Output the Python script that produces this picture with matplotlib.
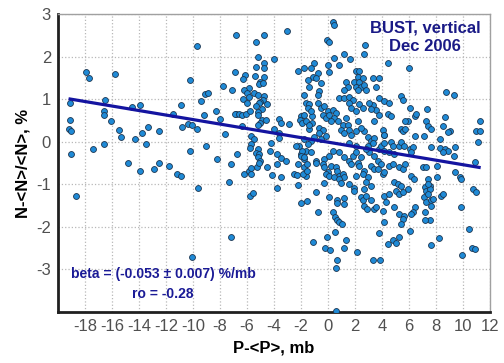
import matplotlib
matplotlib.use("Agg")
import matplotlib.pyplot as plt
import numpy as np

# pressure deviation P-<P> (mb) and count deviation N-<N>/<N> (%)
# left wing, x < -6.5
p_left = [-19.1, -19.1, -19.2, -19.0, -19.0, -17.9, -17.7, -17.4, -16.5, -16.6, -16.6, -16.1,
          -16.6, -15.8, -15.5, -15.3, -14.8, -14.5, -14.3, -13.9, -13.8, -13.5, -13.3, -13.9,
          -12.9, -12.5, -12.5, -11.8, -11.2, -10.9, -10.9, -11.5, -10.2, -9.7, -10.8, -10.4,
          -10.1, -9.7, -10.2, -9.4, -9.1, -8.9, -9.2, -9.0, -8.3, -8.0, -7.8, -7.6, -8.2, -7.2,
          -7.1, -6.8, -6.9, -6.8, -6.7, -6.35, -7.3, -18.7, -9.6, -10.1, -7.2]
n_left = [0.91, 0.52, 0.31, 0.26, -0.29, 1.64, 1.50, -0.18, 0.99, 0.73, 0.63, 0.48,
          -0.05, 1.59, 0.28, 0.12, -0.49, 0.81, 0.06, 0.86, 0.21, -0.05, 0.35, -0.68,
          -0.64, 0.24, -0.49, -0.56, -0.76, -0.80, 0.86, 0.65, 1.45, 2.24, 0.35, 0.41,
          0.39, 0.31, -0.23, 0.96, 1.12, 1.14, 0.63, -0.09, 0.73, 0.53, 1.31, 0.19, -0.41, -0.52,
          1.21, 2.50, 1.63, 0.65, -0.29, 0.38, -0.94, -1.28, -1.09, -2.70, -2.23]

# -7 < x < -1
p_midleft = [-5.3, -4.7, -3.0, -5.2, -4.0, -5.3, -4.7, -4.7, -4.7, -6.15, -6.3, -5.4, -5.0, -5.1,
             -4.8, -5.85, -6.2, -6.0, -5.5, -5.2, -4.7, -4.8, -5.0, -5.85, -6.3, -6.0, -1.8, -2.2,
             -5.1, -5.3, -4.5, -4.9, -5.2, -6.9, -6.6, -6.4, -6.1, -5.8, -5.2, -4.9, -4.6, -5.0,
             -5.2, -3.6, -3.5, -2.9, -2.0, -2.1, -1.9, -1.2, -1.2, -1.4, -4.0, -3.6, -3.6, -4.2,
             -4.3, -5.7, -5.5, -5.7, -5.8, -5.2, -5.3, -5.1, -5.2, -5.0, -3.8, -3.5, -3.1, -2.0,
             -1.6, -1.8,
             -6.22, -5.85, -5.72, -5.72, -5.28, -5.11, -4.49, -4.11, -3.49, -3.74, -5.77, -5.52,
             -3.79, -2.50, -2.30, -2.25, -1.76, -1.63, -1.88, -1.55, -2.20, -1.55, -1.96, -1.56]
n_midleft = [2.34, 2.51, 2.61, 2.0, 1.95, 1.75, 1.85, 1.73, 1.53, 1.57, 1.48, 1.55, 1.40, 1.35,
             1.37, 1.27, 1.22, 1.15, 1.15, 1.10, 1.07, 0.97, 0.93, 1.06, 1.0, 0.90, 1.74, 1.65,
             0.90, 0.85, 0.88, 0.77, 0.70, 0.65, 0.65, 0.63, 0.66, 0.71, 0.62, 0.50, 0.52, 0.45,
             0.40, 0.54, 0.44, 0.41, 0.60, 0.52, 0.45, 0.60, 0.45, 0.30, 0.30, 0.20, 0.09, -0.02,
             -0.22, 0.13, 0.06, -0.06, -0.14, -0.18, -0.26, -0.30, -0.37, -0.45, -0.30, -0.38, -0.46, -0.30,
             -0.22, -0.40,
             -0.76, -0.68, -0.76, -0.62, -0.60, -0.49, -0.59, -0.78, -0.82, -0.52, -1.27, -1.21,
             -1.09, -0.76, -0.78, -1.01, -0.60, -0.80, -0.76, -0.68, -0.52, -0.52, -1.45, -1.40]

# -2 < x < 5, above the fit line
p_upper = [0.34, 0.45, -0.07, 0.05, 2.75, 2.65, 1.21, 1.66, 0.47, 0.03, 0.79, 0.10, 4.43, -1.02,
           -1.26, -1.14, -1.51, -1.39, -1.76, -0.77, -0.89, -0.52, -0.64, -0.77, 2.08, 2.33, 2.20,
           1.96, 2.33, 2.08, 2.45, 2.20, 2.58, 2.70, 2.83, 1.34, 1.46, 1.21, 3.32, 3.82, 3.57, 3.82,
           3.32, 3.57, 3.82, 3.45, 0.84, 1.21, 1.58, 1.83, 1.58, 1.71, 2.08, 2.33, 2.58, 3.07, 3.20,
           -1.64, -1.39, -1.51, -1.26, -1.76, -1.64, -1.39, -0.77, -0.52, -0.27, -0.02, -0.40, -0.15,
           0.10, 0.35, 0.60, 0.47, 0.22, 0.72, 1.09, 1.34, 1.46, 0.97, 1.58, 1.21, 1.71, 2.08, -0.64,
           -0.40, -0.64, -1.02, -1.26, 2.70, 2.95, 3.20, 3.45, 4.07, 4.19, 2.20, 2.45, 4.19]
n_upper = [2.82, 2.74, 2.39, 2.34, 2.28, 2.05, 2.06, 1.94, 1.96, 1.81, 1.81, 1.64, 1.85, 1.85,
           1.73, 1.53, 1.45, 1.29, 1.10, 1.61, 1.49, 1.38, 1.18, 1.10, 1.65, 1.67, 1.53,
           1.41, 1.41, 1.29, 1.29, 1.22, 1.49, 1.34, 1.22, 1.41, 1.29, 1.22, 1.49, 1.49, 1.29, 1.02,
           0.87, 0.75, 0.63, 0.48, 1.02, 1.02, 1.06, 0.98, 0.92, 0.80, 0.72, 0.88, 0.80, 0.92, 0.76,
           0.92, 0.88, 0.80, 0.72, 0.63, 0.48, 0.40, 0.92, 0.80, 0.84, 0.72, 0.63, 0.55,
           0.63, 0.75, 0.67, 0.55, 0.48, 0.48, 0.40, 0.55, 0.40, 0.28, 0.28, 0.20, 0.16, 0.24, 0.32,
           0.28, 0.20, 0.12, 0.01, 0.24, 0.12, 0.01, 0.09, 0.28, 0.16, 0.48, 0.32, 0.16]

# -3 < x < 4.5, band just under the fit line
p_band = [-1.89, -2.01, -1.76, -1.26, -0.89, -0.27, 0.10, 1.21, 1.58, 1.83, 3.07, 3.45, 3.70,
          3.82, -1.76, -2.13, -0.52, -0.15, 1.58, 2.08, 2.95, 3.32, 3.94, 4.19, -2.38, -1.51,
          0.35, 0.84, 2.08, 2.45, 2.83]
n_band = [-0.21, -0.33, -0.37, -0.25, -0.45, -0.41, -0.33, -0.37, -0.45, -0.33, -0.25, -0.33, -0.45,
          -0.17, 0.06, -0.09, 0.06, 0.14, -0.02, -0.09, -0.09, -0.02, -0.09, -0.02, -0.09, -0.05,
          -0.21, -0.25, -0.25, -0.37, -0.17]

# -2 < x < 5, lower cloud
p_lower = [-0.89, -0.40, -0.28, -0.03, -0.15, 0.10, 0.22, 0.59, 0.71, 0.84, 0.47, 1.09, 1.21, 0.84,
           1.71, 2.20, 2.33, 2.70, 2.57, 2.94, 2.08, 3.20, 3.44, 3.94, 3.69, 4.06,
           -0.28, 0.96, 1.58, 1.90, 1.90, 2.82, 2.70, 3.20, -0.89, 0.10, 0.71, 0.71, 1.21, 1.21,
           2.45, 2.57, 2.82, 2.70, 2.90, 3.20, 3.44, 3.57, 4.19, 4.56, 4.31, 4.06,
           -0.77, 0.41, 0.52, 0.66, 0.84, 1.01, 4.19, 3.81, 0.52, -0.09, 1.34, -1.07, 4.81, 4.43,
           -0.22, 0.17, 1.21, 2.15, 0.71, 3.32, 3.89, 0.59, 0.59]
n_lower = [-0.49, -0.52, -0.60, -0.72, -0.76, -0.80, -0.56, -0.60, -0.68, -0.80, -0.84, -0.76, -0.84, -0.88,
           -0.52, -0.49, -0.56, -0.68, -0.76, -0.84, -0.80, -0.56, -0.64, -0.52, -0.64, -0.76,
           -0.97, -0.97, -0.99, -1.09, -1.15, -0.95, -1.11, -1.03, -1.17, -1.31, -1.38, -1.45, -1.32, -1.46,
           -1.31, -1.38, -1.27, -1.50, -1.58, -1.38, -1.58, -1.54, -1.27, -1.23, -1.42, -1.62,
           -1.66, -1.66, -1.78, -1.85, -1.89, -1.93, -1.89, -2.15, -2.11, -2.24, -2.30, -2.35, -2.31, -2.40,
           -2.50, -2.54, -2.50, -2.60, -2.77, -2.77, -2.77, -2.97, -3.98]

# x > 4, right wing
p_right = [6.04, 8.77, 9.34, 5.38,
           4.19, 4.56, 4.43, 4.68, 5.55, 6.05, 6.42, 6.54, 5.43, 5.55, 5.68, 5.92, 5.68, 7.35, 7.28,
           7.41, 7.65, 8.70, 8.50, 9.02, 8.90, 11.25, 11.0, 11.25, 11.12, 6.47, 7.11, 4.68, 4.81,
           5.30, 5.43, 5.67, 6.05, 6.29, 6.17, 4.19, 4.56, 4.93, 8.27, 8.64, 8.90, 8.52, 9.39, 9.34,
           10.88, 4.56, 4.81, 5.30, 5.55, 5.68, 7.04, 7.28, 8.09, 9.39, 4.19, 8.27, 7.65,
           8.10, 9.76, 9.88, 6.17, 6.37, 7.41, 7.53, 7.16, 7.29, 7.53, 7.41, 4.93, 5.18, 5.43, 5.05,
           5.30, 5.55, 5.92, 7.11, 7.29, 7.65, 7.61, 7.78, 7.41, 8.40, 8.52, 10.75, 11.0, 4.93, 5.30,
           5.67, 5.55, 5.43, 6.05, 6.42, 6.29, 6.17, 7.16, 7.53, 7.16, 9.83, 10.43, 5.30, 5.05, 8.23,
           7.65, 10.68, 10.88, 9.97]
n_right = [1.74, 1.17, 1.10, 1.07,
           0.96, 0.92, 0.65, 0.61, 0.97, 0.80, 0.61, 0.65, 0.30, 0.26, 0.30, 0.49, 0.49, 0.77, 0.49,
           0.38, 0.30, 0.57, 0.38, 0.26, 0.22, 0.49, 0.26, 0.24, 0.0, 0.13, 0.13, -0.01, -0.09,
           -0.09, -0.01, -0.09, -0.17, -0.13, -0.25, -0.21, -0.25, -0.29, -0.15, -0.17, -0.21, -0.25, -0.13, -0.33,
           -0.47, -0.56, -0.52, -0.60, -0.64, -0.52, -0.60, -0.60, -0.58, -0.72, -0.72, 0.07, -0.13,
           -0.84, -0.84, -0.88, -0.80, -0.88, -0.88, -1.03, -1.07, -1.15, -1.11, -0.99, -0.95, -0.99, -1.03, -1.15,
           -1.23, -1.19, -1.11, -1.31, -1.42, -1.38, -1.50, -1.34, -1.23, -1.27, -1.23, -1.11, -1.17, -1.54, -1.70,
           -1.74, -1.81, -1.93, -2.09, -1.54, -1.66, -1.70, -1.66, -1.84, -1.85, -1.53, -2.05, -2.25, -2.39, -2.26,
           -2.42, -2.50, -2.52, -2.65]

# linear fit shown on the chart
fit_slope = -0.053
fit_intercept = -0.01
fit_p_range = [-19.1, 11.2]

p_all = np.array(p_left + p_midleft + p_upper + p_band + p_lower + p_right)
n_all = np.array(n_left + n_midleft + n_upper + n_band + n_lower + n_right)

plt.rcParams["font.family"] = ["Liberation Sans", "DejaVu Sans"]
plt.rcParams["axes.unicode_minus"] = False

fig = plt.figure(figsize=(5.04, 3.63), dpi=100)
ax = fig.add_axes([0.115, 0.1405, 0.857, 0.821])

ax.scatter(p_all, n_all, s=18, c="#1f8ad6", edgecolors="#1c3550", linewidths=0.6, zorder=3)

fx = np.array(fit_p_range)
ax.plot(fx, fit_intercept + fit_slope * fx, color="#1414a0", lw=2.3, zorder=4)

ax.set_xlim(-20, 12)
ax.set_ylim(-4, 3)
ax.set_xticks(np.arange(-18, 13, 2))
ax.set_yticks(np.arange(-3, 4, 1))
ax.grid(True, color="#b8b8b8", linestyle=":", linewidth=0.9)
ax.set_axisbelow(True)

ax.tick_params(axis="both", labelsize=12, labelcolor="#505050", length=0, pad=5)
for side in ("left", "bottom"):
    ax.spines[side].set_linewidth(2)
    ax.spines[side].set_color("#202020")
for side in ("top", "right"):
    ax.spines[side].set_linewidth(1)
    ax.spines[side].set_color("#a0a0a0")

ax.set_xlabel("P-<P>, mb", fontsize=12, fontweight="bold", labelpad=5)
ax.set_ylabel("N-<N>/<N>, %", fontsize=12, fontweight="bold", labelpad=4)

ax.text(7.2, 2.45, "BUST, vertical\nDec 2006", ha="center", va="center", fontsize=12,
        fontweight="bold", color="#1a1a86", linespacing=1.25, zorder=5)
ax.text(-12.2, -3.35, "beta = (-0.053 \u00b1 0.007) %/mb\nro = -0.28", ha="center", va="center",
        fontsize=10, fontweight="bold", color="#1a1a96", linespacing=1.55, zorder=5)

fig.savefig("out.png", dpi=100)
